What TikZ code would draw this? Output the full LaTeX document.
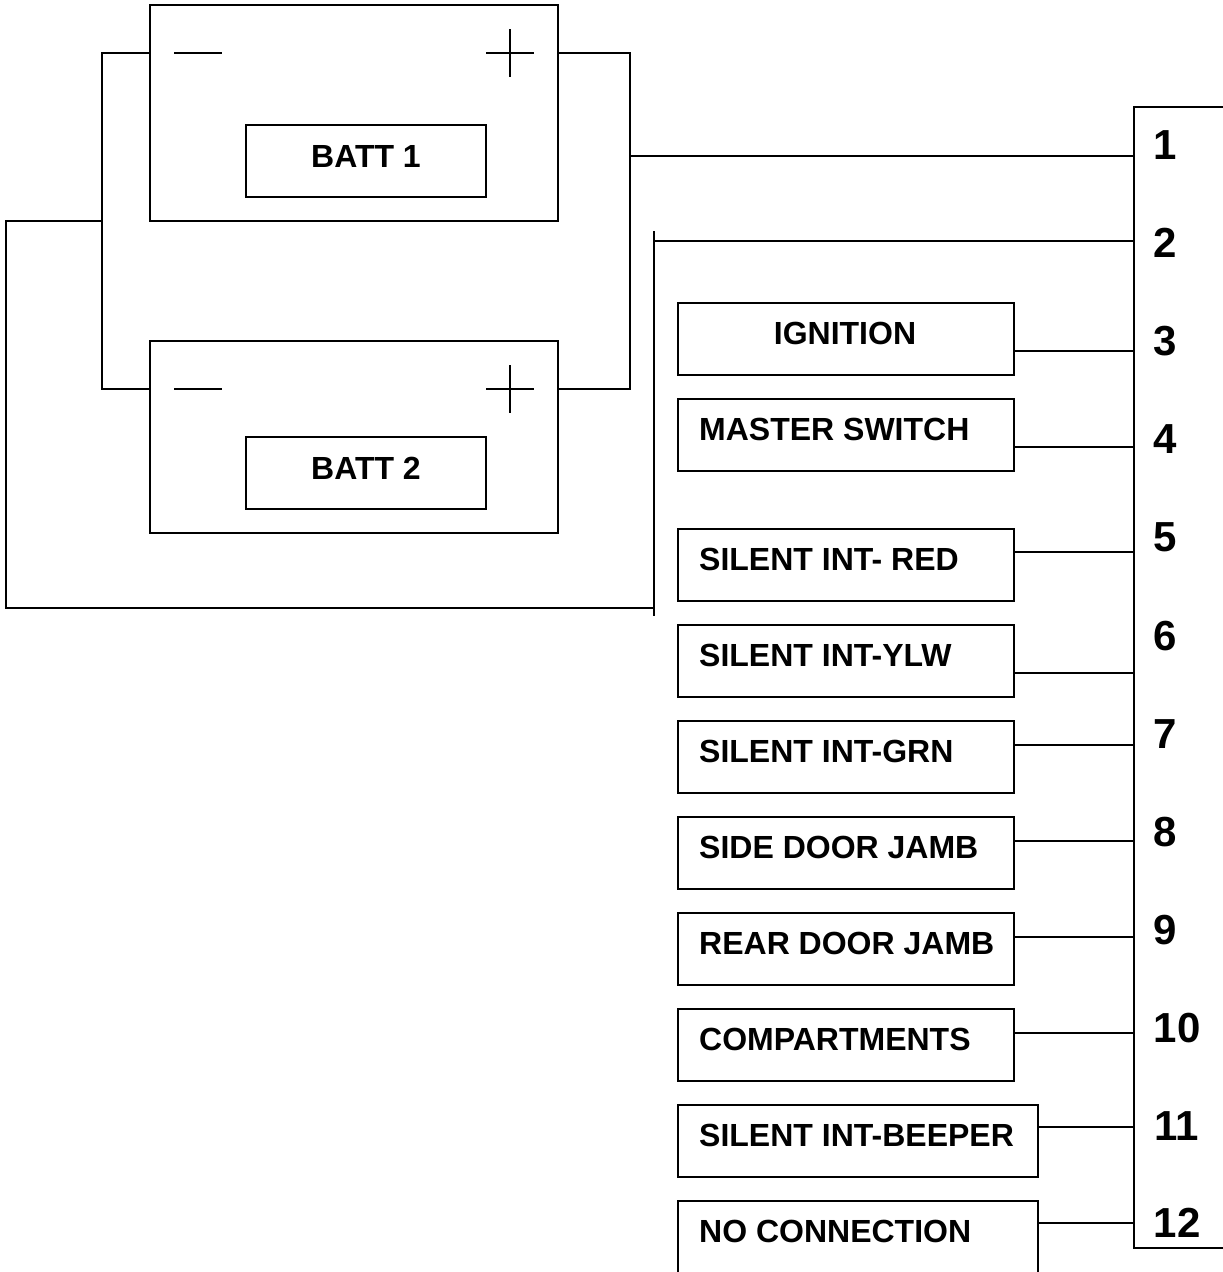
\documentclass[tikz,border=0pt]{standalone}
\usepackage{fontspec}
\setmainfont{Liberation Sans}
\tikzset{
  wire/.style={draw=black,line width=2pt,line cap=rect},
  box/.style={draw=black,line width=2pt,anchor=north west,inner sep=0pt,outer sep=0pt,minimum height=#1},
  lbl/.style={font=\fontsize{32}{36}\bfseries\selectfont,anchor=west,inner sep=0pt,text=black},
  clbl/.style={font=\fontsize{32}{36}\bfseries\selectfont,inner sep=0pt,text=black},
  num/.style={font=\fontsize{42}{46}\bfseries\selectfont,inner sep=0pt,text=black},
}
\begin{document}
\begin{tikzpicture}[x=1pt,y=-1pt]
\useasboundingbox (0,0) rectangle (1223,1272);
% batteries
\node[box=216pt,minimum width=408pt] (b1) at (150,5) {};
\node[box=72pt,minimum width=240pt] (b1i) at (246,125) {};
\node[clbl] (b1t) at (366,156) {BATT 1};
\node[box=192pt,minimum width=408pt] (b2) at (150,341) {};
\node[box=72pt,minimum width=240pt] (b2i) at (246,437) {};
\node[clbl] (b2t) at (366,468) {BATT 2};
% polarity marks
\coordinate (m1a) at (174,53); \coordinate (m1b) at (222,53);
\coordinate (m2a) at (174,389); \coordinate (m2b) at (222,389);
\coordinate (p1a) at (486,53); \coordinate (p1b) at (534,53);
\coordinate (p1c) at (510,29); \coordinate (p1d) at (510,77);
\coordinate (p2a) at (486,389); \coordinate (p2b) at (534,389);
\coordinate (p2c) at (510,365); \coordinate (p2d) at (510,413);
\draw[wire,line cap=butt] (m1a)--(m1b) (m2a)--(m2b) (p1a)--(p1b) (p1c)--(p1d) (p2a)--(p2b) (p2c)--(p2d);
% terminal bar
\coordinate (barT) at (1223,107); \coordinate (barTL) at (1134,107);
\coordinate (barBL) at (1134,1248); \coordinate (barB) at (1223,1248);
\draw[wire,line cap=butt] (barT)--(barTL)--(barBL)--(barB);
% battery wiring
\coordinate (n1) at (150,53); \coordinate (n2) at (150,389);
\coordinate (nl1) at (102,53); \coordinate (nl2) at (102,389); \coordinate (nj) at (102,221);
\coordinate (g1) at (6,221); \coordinate (g2) at (6,608); \coordinate (g3) at (654,608);
\coordinate (gt) at (654,231); \coordinate (gb) at (654,616); \coordinate (gw) at (654,241);
\coordinate (pos1) at (558,53); \coordinate (pos2) at (558,389);
\coordinate (pr1) at (630,53); \coordinate (pr2) at (630,389); \coordinate (prj) at (630,156);
\coordinate (t1) at (1134,156); \coordinate (t2) at (1134,241);
\draw[wire,line cap=butt] (n1)--(nl1)--(nl2)--(n2);
\draw[wire,line cap=butt] (nj)--(g1)--(g2)--(g3);
\draw[wire,line cap=butt] (gt)--(gb);
\draw[wire,line cap=butt] (gw)--(t2);
\draw[wire,line cap=butt] (pos1)--(pr1)--(pr2)--(pos2);
\draw[wire,line cap=butt] (prj)--(t1);
% switch boxes
\node[box=72pt,minimum width=336pt] (s3) at (678,303) {};
\node[box=72pt,minimum width=336pt] (s4) at (678,399) {};
\node[box=72pt,minimum width=336pt] (s5) at (678,529) {};
\node[box=72pt,minimum width=336pt] (s6) at (678,625) {};
\node[box=72pt,minimum width=336pt] (s7) at (678,721) {};
\node[box=72pt,minimum width=336pt] (s8) at (678,817) {};
\node[box=72pt,minimum width=336pt] (s9) at (678,913) {};
\node[box=72pt,minimum width=336pt] (s10) at (678,1009) {};
\node[box=72pt,minimum width=360pt] (s11) at (678,1105) {};
\node[box=72pt,minimum width=360pt] (s12) at (678,1201) {};
\node[clbl] (l3) at (845,333) {IGNITION};
\node[lbl] (l4) at (699,429) {MASTER SWITCH};
\node[lbl] (l5) at (699,559) {SILENT INT- RED};
\node[lbl] (l6) at (699,655) {SILENT INT-YLW};
\node[lbl] (l7) at (699,751) {SILENT INT-GRN};
\node[lbl] (l8) at (699,847) {SIDE DOOR JAMB};
\node[lbl] (l9) at (699,943) {REAR DOOR JAMB};
\node[lbl] (l10) at (699,1039) {COMPARTMENTS};
\node[lbl] (l11) at (699,1135) {SILENT INT-BEEPER};
\node[lbl] (l12) at (699,1231) {NO CONNECTION};
% connections
\coordinate (t3) at (1134,351); \coordinate (t4) at (1134,447);
\coordinate (t5) at (1134,552); \coordinate (t6) at (1134,673);
\coordinate (t7) at (1134,745); \coordinate (t8) at (1134,841);
\coordinate (t9) at (1134,937); \coordinate (t10) at (1134,1033);
\coordinate (t11) at (1134,1127); \coordinate (t12) at (1134,1223);
\foreach \i in {3,...,12} {\draw[wire,line cap=butt] (s\i.east |- t\i) -- (t\i);}
% numbers
\node[num] (k1) at (1165,145) {1};
\node[num] (k2) at (1165,243) {2};
\node[num] (k3) at (1165,341) {3};
\node[num] (k4) at (1165,439) {4};
\node[num] (k5) at (1165,537) {5};
\node[num] (k6) at (1165,636) {6};
\node[num] (k7) at (1165,734) {7};
\node[num] (k8) at (1165,832) {8};
\node[num] (k9) at (1165,930) {9};
\node[num] (k10) at (1177,1028) {10};
\node[num] (k11) at (1177,1126) {11};
\node[num] (k12) at (1177,1223) {12};
\end{tikzpicture}
\end{document}
